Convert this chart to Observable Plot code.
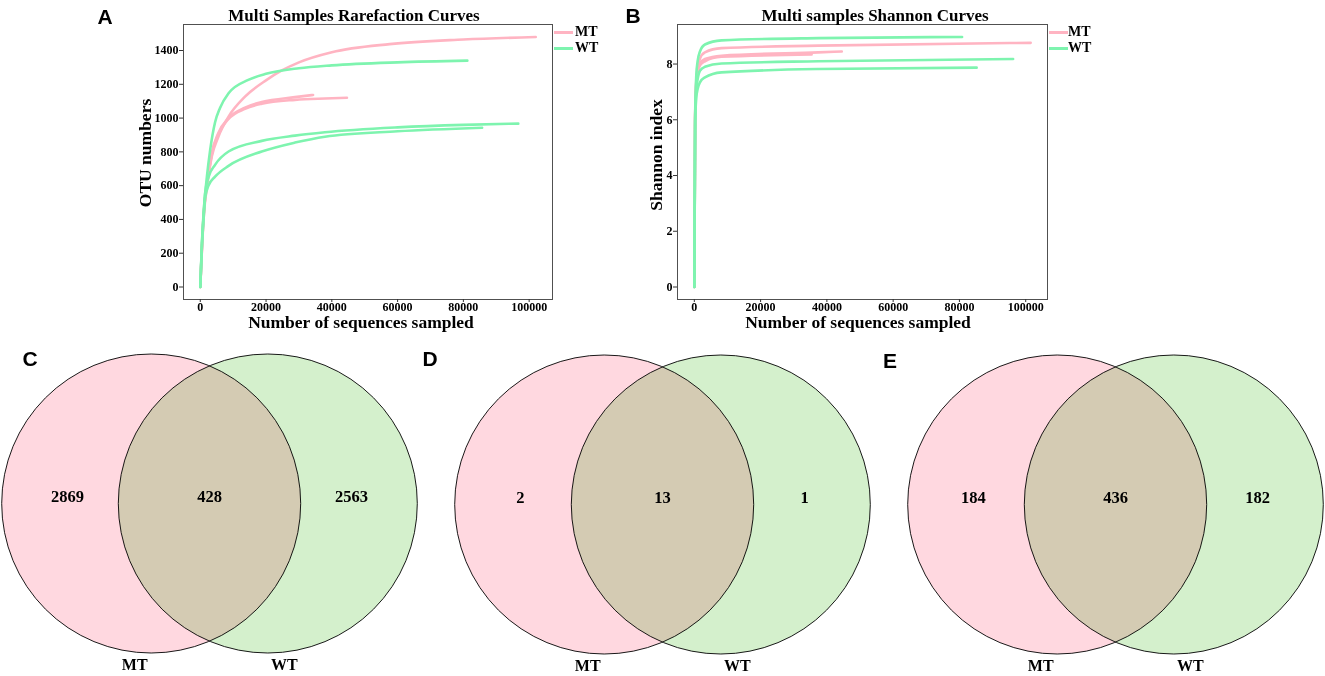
<!DOCTYPE html>
<html><head><meta charset="utf-8">
<script src="https://cdn.jsdelivr.net/npm/d3@7"></script>
<script src="https://cdn.jsdelivr.net/npm/@observablehq/plot@0.6"></script>
<style>
body{margin:0;background:#fff;}
#fig{position:relative;width:1325px;height:676px;overflow:hidden;font-family:"Liberation Serif","Times New Roman",serif;color:#000;background:#fff;}
.box{position:absolute;}
.t{position:absolute;font-weight:bold;white-space:nowrap;transform:translate(-50%,-50%);line-height:1;}
.tight{line-height:0.7;}
.rot{transform:translate(-50%,-50%) rotate(-90deg);}
.letter{position:absolute;font-family:"Liberation Sans",Arial,sans-serif;font-weight:bold;font-size:21px;transform:translate(-50%,-50%);line-height:1;}
.sw{position:absolute;height:3px;width:19px;}
.lg{position:absolute;font-weight:bold;font-size:14px;line-height:1;transform:translateY(-50%);}
</style></head><body><div id="fig"></div>
<script>
// ---------- data ----------
const groups = ["MT", "WT"];
const groupColors = ["#FFB4C2", "#7EF4AF"];

// Rarefaction curves: [sequences sampled, OTU numbers]
const rareMT1 = [[0,0],[1000,400],[2300,634],[3500,772],[5500,890],[8600,1009],[13600,1127],[20200,1226],[24800,1282],[30000,1330],[40000,1390],[57600,1438],[80000,1465],[102000,1480]];
const rareMT2 = [[0,0],[1000,420],[2300,640],[3500,792],[5500,911],[8600,1000],[13600,1062],[18700,1095],[28800,1124],[34300,1137]];
const rareMT3 = [[0,0],[1000,415],[2300,635],[3500,785],[5500,905],[8600,995],[13600,1055],[18700,1085],[28800,1108],[37900,1116],[44600,1120]];
const rareWT1 = [[0,0],[500,260],[1000,437],[2000,650],[3000,810],[4500,975],[6000,1060],[8600,1147],[14600,1226],[20000,1262],[30000,1295],[40000,1312],[60000,1330],[81200,1340]];
const rareWT2 = [[0,0],[500,250],[1000,420],[1500,560],[2500,650],[4500,723],[8600,802],[18700,865],[28800,896],[37900,916],[60000,945],[80000,960],[96700,967]];
const rareWT3 = [[0,0],[500,240],[1000,400],[1500,530],[2500,600],[4500,653],[8600,717],[18700,802],[28800,855],[37900,890],[60000,922],[85700,943]];

// Shannon curves: [sequences sampled, Shannon index]
const shanMT1 = [[0,0],[250,6.1],[600,7.4],[1000,7.85],[1700,8.2],[3200,8.42],[8200,8.57],[37400,8.66],[101500,8.76]];
const shanMT2 = [[0,0],[250,6.1],[600,7.3],[1000,7.7],[1700,7.95],[3200,8.1],[8200,8.26],[35400,8.34]];
const shanMT3 = [[0,0],[250,6.1],[600,7.35],[1000,7.75],[1700,8.02],[3200,8.18],[8200,8.3],[37400,8.42],[44500,8.45]];
const shanWT1 = [[0,0],[250,6.2],[600,7.6],[1000,8.1],[1700,8.45],[3200,8.7],[8200,8.85],[37400,8.93],[80800,8.97]];
const shanWT2 = [[0,0],[250,6.0],[600,7.1],[1000,7.45],[1700,7.76],[3200,7.9],[8200,8.02],[37400,8.1],[96200,8.18]];
const shanWT3 = [[0,0],[250,5.9],[600,6.8],[1000,7.1],[1700,7.34],[3200,7.52],[8200,7.7],[37400,7.82],[85200,7.87]];

const seqTicks = [0, 20000, 40000, 60000, 80000, 100000];
const otuTicks = [0, 200, 400, 600, 800, 1000, 1200, 1400];
const shannonTicks = [0, 2, 4, 6, 8];

// Venn diagrams: [MT only, shared, WT only]
const vennSets = ["MT", "WT"];
const vennC = [2869, 428, 2563];
const vennD = [2, 13, 1];
const vennE = [184, 436, 182];
const vennFill = ["#FFD8E0", "#D4F0CC"];

// ---------- helpers ----------
const fig = document.getElementById("fig");
function place(node, left, top) {
  const d = document.createElement("div");
  d.className = "box"; d.style.left = left + "px"; d.style.top = top + "px";
  d.appendChild(node); fig.appendChild(d); return d;
}
function txt(s, x, y, size, cls) {
  const d = document.createElement("div");
  d.className = cls || "t"; d.textContent = s;
  d.style.left = x + "px"; d.style.top = y + "px";
  if (size) d.style.fontSize = size + "px";
  fig.appendChild(d); return d;
}
function rows(curves) {
  const out = [];
  curves.forEach(([name, group, pts]) => pts.forEach(([x, y]) => out.push({sample: name, group, x, y})));
  return out;
}
function expand(max) { return [-0.05 * max, 1.05 * max]; }

const rowsA = rows([["MT1","MT",rareMT1],["MT2","MT",rareMT2],["MT3","MT",rareMT3],["WT1","WT",rareWT1],["WT2","WT",rareWT2],["WT3","WT",rareWT3]]);
const rowsB = rows([["MT1","MT",shanMT1],["MT2","MT",shanMT2],["MT3","MT",shanMT3],["WT1","WT",shanWT1],["WT2","WT",shanWT2],["WT3","WT",shanWT3]]);

function curvePlot(data, yTicks, opts) {
  return Plot.plot({
    width: opts.width, height: 335,
    marginLeft: opts.ml, marginRight: opts.mr, marginTop: 24, marginBottom: 36,
    style: {fontFamily: "Liberation Serif, serif", fontSize: "12px", fontWeight: "bold", background: "transparent", color: "#000", overflow: "visible"},
    x: {domain: expand(d3.max(data, d => d.x))},
    y: {domain: expand(d3.max(data, d => d.y))},
    color: {domain: groups, range: groupColors},
    marks: [
      Plot.line(data, {x: "x", y: "y", z: "sample", stroke: "group", strokeWidth: 2.6, curve: "monotone-x"}),
      Plot.frame({stroke: "#505050", strokeWidth: 1}),
      Plot.axisY({ticks: yTicks, tickSize: 4, tickPadding: 1, tickFormat: d => String(d), label: null, stroke: "#333", fill: "#000"}),
      Plot.axisX({ticks: seqTicks, tickSize: 3, tickPadding: 0, tickFormat: d => String(d), label: null, stroke: "#333", fill: "#000"})
    ]
  });
}

// ---------- panel A ----------
place(curvePlot(rowsA, otuTicks, {width: 540, ml: 93, mr: 78}), 90, 0);
txt("A", 105, 16, null, "letter");
txt("Multi Samples Rarefaction Curves", 354, 15, 17);
txt("OTU numbers", 146, 153, 17.5, "t rot");
txt("Number of sequences sampled", 361, 322, 17.5, "t tight");

// ---------- panel B ----------
place(curvePlot(rowsB, shannonTicks, {width: 500, ml: 67, mr: 63}), 610, 0);
txt("B", 633, 15, null, "letter");
txt("Multi samples Shannon Curves", 875, 15, 17);
txt("Shannon index", 657, 155, 17.5, "t rot");
txt("Number of sequences sampled", 858, 322, 17.5, "t tight");

// legends
function legend(x0, xt) {
  groups.forEach((g, i) => {
    const y = 32 + i * 16;
    const s = document.createElement("div");
    s.className = "sw"; s.style.left = x0 + "px"; s.style.top = (y - 1.5) + "px"; s.style.background = groupColors[i];
    fig.appendChild(s);
    const l = document.createElement("div");
    l.className = "lg"; l.textContent = g; l.style.left = xt + "px"; l.style.top = y + "px";
    fig.appendChild(l);
  });
}
legend(554, 575);
legend(1049, 1068);

// ---------- Venn panels ----------
function venn(counts, cx, cy) {
  const R = 149.5, W = 420, H = 360, h = 0.39;
  const circles = vennSets.map((s, i) => ({set: s, x: i ? h : -h, y: 0}));
  const regions = counts.map((c, i) => ({label: String(c), x: (i - 1) * 0.95, y: 0.045}));
  const cats = vennSets.map((s, i) => ({label: s, x: i ? 0.5 : -0.5, y: -1.08}));
  const p = Plot.plot({
    width: W, height: H, margin: 0,
    x: {domain: [-W / 2 / R, W / 2 / R], axis: null},
    y: {domain: [-H / 2 / R, H / 2 / R], axis: null},
    style: {background: "transparent", overflow: "visible", fontFamily: "Liberation Serif, serif", color: "#000"},
    marks: [
      Plot.dot(circles.slice(0, 1), {x: "x", y: "y", r: R, fill: vennFill[0], mixBlendMode: "multiply"}),
      Plot.dot(circles.slice(1, 2), {x: "x", y: "y", r: R, fill: vennFill[1], mixBlendMode: "multiply"}),
      Plot.dot(circles, {x: "x", y: "y", r: R, fill: "none", stroke: "#000", strokeWidth: 0.9}),
      Plot.text(regions, {x: "x", y: "y", text: "label", fontSize: 16.5, fontWeight: "bold", fill: "#000"}),
      Plot.text(cats, {x: "x", y: "y", text: "label", fontSize: 16, fontWeight: "bold", fill: "#000"})
    ]
  });
  place(p, cx - W / 2, cy - H / 2);
}
venn(vennC, 209.25, 502.5);
venn(vennD, 661.5, 504);
venn(vennE, 1114.7, 503.5);
txt("C", 30, 358, null, "letter");
txt("D", 430, 358, null, "letter");
txt("E", 890, 360, null, "letter");
</script></body></html>
